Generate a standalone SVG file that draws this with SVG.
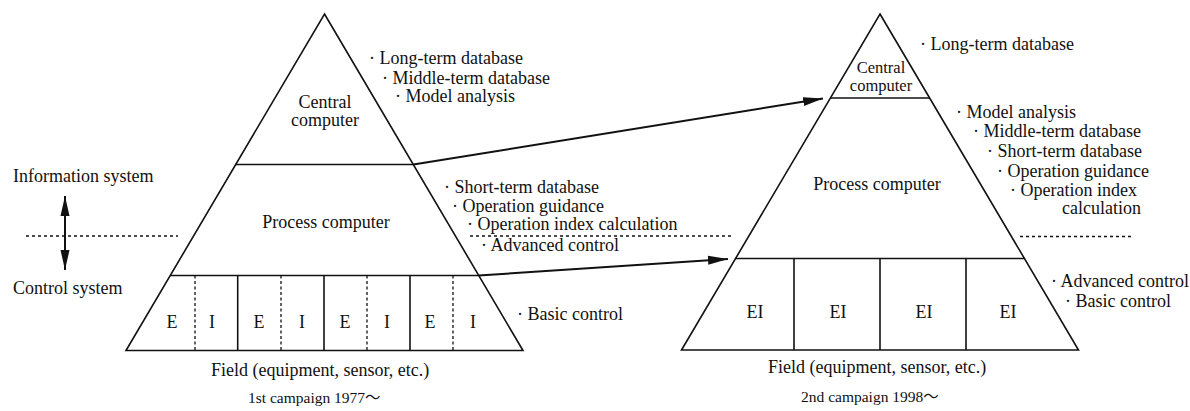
<svg xmlns="http://www.w3.org/2000/svg" width="1190" height="411" viewBox="0 0 1190 411">
<style>
  text { font-family: "Liberation Serif", "Times New Roman", "Noto Sans CJK JP", serif; font-size: 18px; fill: #111; }
  .c { text-anchor: middle; }
  .e { text-anchor: end; }
  .small { font-size: 15.5px; }
  .cc { font-size: 16.5px; }
  .ln { stroke: #111; stroke-width: 1.6; fill: none; }
  .dash { stroke: #111; stroke-width: 1.3; fill: none; stroke-dasharray: 3 2.5; }
  .dot { stroke: #111; stroke-width: 1.3; fill: none; stroke-dasharray: 3 3; }
  .arr { stroke: #111; stroke-width: 2; fill: none; }
</style>
<defs>
  <marker id="ah" viewBox="0 0 20 10" refX="20" refY="5" markerWidth="20" markerHeight="10" markerUnits="userSpaceOnUse" orient="auto-start-reverse">
    <path d="M0,0.5 L20,5 L0,9.5 Z" fill="#111"/>
  </marker>
</defs>
<rect width="1190" height="411" fill="#fff"/>

<g id="left-pyramid">
  <polygon class="ln" points="324.5,14 523,350.5 126,350.5"/>
  <g id="left-central">
    <line class="ln" x1="235.6" y1="164.5" x2="413.4" y2="164.5"/>
    <text class="c" x="325" y="108">Central</text>
    <text class="c" x="325" y="126">computer</text>
  </g>
  <g id="left-process">
    <line class="ln" x1="170.3" y1="275.5" x2="478.7" y2="275.5"/>
    <text class="c" x="326" y="228">Process computer</text>
  </g>
  <g id="left-field">
    <line class="ln" x1="237.7" y1="275.5" x2="237.7" y2="350.5"/>
    <line class="ln" x1="324" y1="275.5" x2="324" y2="350.5"/>
    <line class="ln" x1="410" y1="275.5" x2="410" y2="350.5"/>
    <line class="dash" x1="195" y1="275.5" x2="195" y2="350.5"/>
    <line class="dash" x1="281" y1="275.5" x2="281" y2="350.5"/>
    <line class="dash" x1="367" y1="275.5" x2="367" y2="350.5"/>
    <line class="dash" x1="453" y1="275.5" x2="453" y2="350.5"/>
    <text class="c" x="172" y="328">E</text>
    <text class="c" x="212" y="328">I</text>
    <text class="c" x="259" y="328">E</text>
    <text class="c" x="302" y="328">I</text>
    <text class="c" x="345" y="328">E</text>
    <text class="c" x="387" y="328">I</text>
    <text class="c" x="430" y="328">E</text>
    <text class="c" x="473" y="328">I</text>
  </g>
  <text x="211" y="376">Field (equipment, sensor, etc.)</text>
  <text class="small" x="248" y="403">1st campaign 1977～</text>
</g>

<g id="left-functions">
  <text x="369" y="64">· Long-term database</text>
  <text x="382" y="84">· Middle-term database</text>
  <text x="395" y="102">· Model analysis</text>
  <text x="444" y="193">· Short-term database</text>
  <text x="452" y="212">· Operation guidance</text>
  <text x="467" y="230">· Operation index calculation</text>
  <text x="481" y="251">· Advanced control</text>
  <text x="517" y="320">· Basic control</text>
</g>

<g id="legend">
  <text x="13" y="182">Information system</text>
  <text x="13" y="294">Control system</text>
  <line class="dot" x1="26" y1="236" x2="178" y2="236"/>
  <line class="arr" x1="65" y1="196" x2="65" y2="270" marker-start="url(#ah)" marker-end="url(#ah)"/>
</g>

<g id="right-pyramid">
  <polygon class="ln" points="880,14 1078.5,350 681.5,350"/>
  <g id="right-central">
    <line class="ln" x1="830.4" y1="98" x2="929.6" y2="98"/>
    <text class="c cc" x="881" y="73">Central</text>
    <text class="c cc" x="881" y="91">computer</text>
  </g>
  <g id="right-process">
    <line class="ln" x1="735.6" y1="258.5" x2="1024.4" y2="258.5"/>
    <text class="c" x="877" y="190">Process computer</text>
  </g>
  <g id="right-field">
    <line class="ln" x1="794" y1="258.5" x2="794" y2="350"/>
    <line class="ln" x1="880" y1="258.5" x2="880" y2="350"/>
    <line class="ln" x1="966" y1="258.5" x2="966" y2="350"/>
    <text class="c" x="755" y="318">EI</text>
    <text class="c" x="838" y="318">EI</text>
    <text class="c" x="924" y="318">EI</text>
    <text class="c" x="1008" y="318">EI</text>
  </g>
  <text x="768" y="373">Field (equipment, sensor, etc.)</text>
  <text class="small" x="801" y="402">2nd campaign 1998～</text>
</g>

<g id="right-functions">
  <text x="920" y="50">· Long-term database</text>
  <text x="956" y="118">· Model analysis</text>
  <text x="973" y="137">· Middle-term database</text>
  <text x="987" y="157">· Short-term database</text>
  <text x="997" y="177">· Operation guidance</text>
  <text x="1010" y="196">· Operation index</text>
  <text class="e" x="1141" y="214">calculation</text>
  <text x="1051" y="287">· Advanced control</text>
  <text x="1065" y="307">· Basic control</text>
</g>

<g id="connectors">
  <line class="dot" x1="470" y1="236" x2="733" y2="236"/>
  <line class="dot" x1="1020" y1="236.5" x2="1133" y2="236.5"/>
  <line class="arr" x1="413.4" y1="164.5" x2="823" y2="98.5" marker-end="url(#ah)"/>
  <line class="arr" x1="478.7" y1="275.5" x2="728" y2="259" marker-end="url(#ah)"/>
</g>
</svg>
